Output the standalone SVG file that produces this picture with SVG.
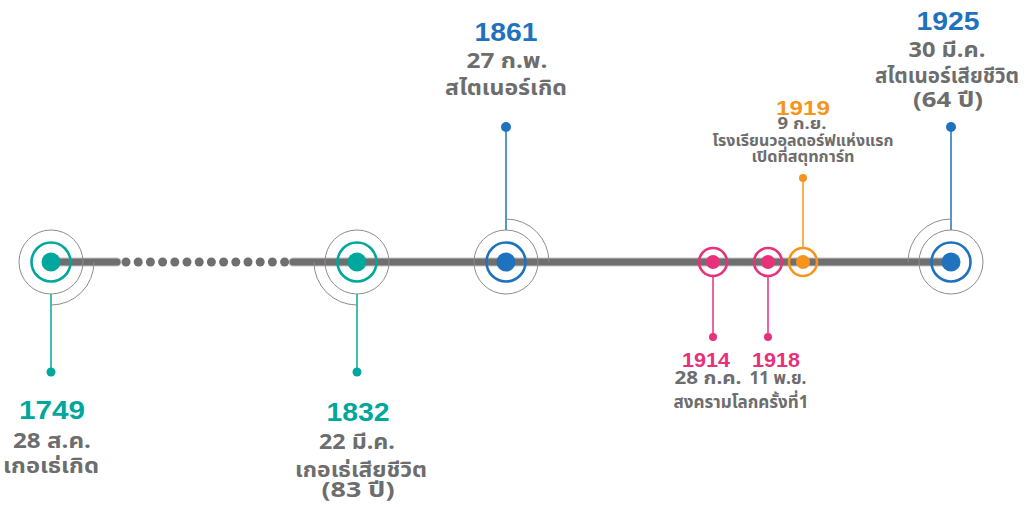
<svg xmlns="http://www.w3.org/2000/svg" width="1031" height="507" viewBox="0 0 1031 507">
<style>
.bg{fill:#ffffff}
.axis{stroke:#6f6f6f;stroke-width:7;stroke-linecap:round;fill:none}
.axisedge{stroke:#c6c6c6;stroke-width:9;stroke-linecap:round;fill:none}
.dotted{fill:#6f6f6f}
.halo{fill:none;stroke:#8c8c8c;stroke-width:1}
.teal{fill:#00a79d}.tealS{stroke:#00a79d}
.blue{fill:#1f72bd}.blueS{stroke:#1f72bd}
.pink{fill:#e8317b}.pinkS{stroke:#e8317b}
.orange{fill:#f7941e}.orangeS{stroke:#f7941e}
.ring{fill:none;stroke-width:2.6}
.conn{stroke-width:1.5;fill:none}
.yr{font-family:"Liberation Sans",Arial,sans-serif;font-weight:bold;text-anchor:middle}
.tx{font-family:"Noto Sans Thai","Noto Sans","Liberation Sans",sans-serif;font-weight:bold;text-anchor:middle;fill:#6d6d6d}
</style>
<rect class="bg" x="0" y="0" width="1031" height="507"/>

<g id="axis">
  <line class="axisedge" x1="51" y1="262" x2="117" y2="262"/>
  <line class="axis" x1="51" y1="262" x2="117" y2="262"/>
  <line class="axisedge" x1="293" y1="262" x2="950" y2="262"/>
  <line class="axis" x1="293" y1="262" x2="950" y2="262"/>
  <g class="dotted">
    <circle cx="126" cy="262" r="4.5"/><circle cx="138.2" cy="262" r="4.5"/><circle cx="150.4" cy="262" r="4.5"/><circle cx="162.6" cy="262" r="4.5"/><circle cx="174.8" cy="262" r="4.5"/><circle cx="187" cy="262" r="4.5"/><circle cx="199.2" cy="262" r="4.5"/><circle cx="211.4" cy="262" r="4.5"/><circle cx="223.6" cy="262" r="4.5"/><circle cx="235.8" cy="262" r="4.5"/><circle cx="248" cy="262" r="4.5"/><circle cx="260.2" cy="262" r="4.5"/><circle cx="272.4" cy="262" r="4.5"/><circle cx="284.6" cy="262" r="4.5"/>
  </g>
</g>

<g id="connectors">
  <line class="conn tealS" x1="51" y1="294" x2="51" y2="372"/>
  <circle class="teal" cx="51" cy="372" r="4.5"/>
  <line class="conn tealS" x1="357" y1="294" x2="357" y2="372"/>
  <circle class="teal" cx="357" cy="372" r="4.5"/>
  <line class="conn blueS" x1="506" y1="127" x2="506" y2="230"/>
  <circle class="blue" cx="506" cy="127" r="5"/>
  <line class="conn blueS" x1="951" y1="127" x2="951" y2="230"/>
  <circle class="blue" cx="951" cy="127" r="5"/>
  <line class="conn orangeS" x1="803" y1="178" x2="803" y2="247"/>
  <circle class="orange" cx="803" cy="178" r="4"/>
  <line class="conn pinkS" x1="713" y1="277" x2="713" y2="337"/>
  <circle class="pink" cx="713" cy="337" r="4"/>
  <line class="conn pinkS" x1="768" y1="277" x2="768" y2="337"/>
  <circle class="pink" cx="768" cy="337" r="4"/>
</g>

<g id="node-1749">
  <circle class="halo" cx="51" cy="262" r="32"/>
  <path class="halo" d="M94 262 A43 43 0 0 1 51 305"/>
  <circle class="ring tealS" cx="51" cy="262" r="19.5"/>
  <circle class="teal" cx="51" cy="262" r="9.5"/>
  <text class="yr teal" x="52" y="419" font-size="25" textLength="66" lengthAdjust="spacingAndGlyphs">1749</text>
  <text class="tx" x="52" y="448" font-size="21" textLength="78" lengthAdjust="spacingAndGlyphs">28 ส.ค.</text>
  <text class="tx" x="51" y="473" font-size="22" textLength="96" lengthAdjust="spacingAndGlyphs">เกอเธ่เกิด</text>
</g>

<g id="node-1832">
  <circle class="halo" cx="357" cy="262" r="32"/>
  <path class="halo" d="M314 262 A43 43 0 0 0 357 305"/>
  <circle class="ring tealS" cx="357" cy="262" r="19.5"/>
  <circle class="teal" cx="357" cy="262" r="9.5"/>
  <text class="yr teal" x="358" y="421" font-size="25" textLength="63" lengthAdjust="spacingAndGlyphs">1832</text>
  <text class="tx" x="357" y="449" font-size="21" textLength="76" lengthAdjust="spacingAndGlyphs">22 มี.ค.</text>
  <text class="tx" x="361" y="477" font-size="22" textLength="132" lengthAdjust="spacingAndGlyphs">เกอเธ่เสียชีวิต</text>
  <text class="tx" x="358" y="497" font-size="21" textLength="73" lengthAdjust="spacingAndGlyphs">(83 ปี)</text>
</g>

<g id="node-1861">
  <circle class="halo" cx="506" cy="262" r="32"/>
  <path class="halo" d="M506 219 A43 43 0 0 1 549 262"/>
  <circle class="ring blueS" cx="506" cy="262" r="19.5"/>
  <circle class="blue" cx="506" cy="262" r="9.5"/>
  <text class="yr blue" x="506" y="41" font-size="25" textLength="63" lengthAdjust="spacingAndGlyphs">1861</text>
  <text class="tx" x="507" y="68" font-size="21" textLength="81" lengthAdjust="spacingAndGlyphs">27 ก.พ.</text>
  <text class="tx" x="506" y="95" font-size="22" textLength="122" lengthAdjust="spacingAndGlyphs">สไตเนอร์เกิด</text>
</g>

<g id="node-1914">
  <circle class="ring pinkS" cx="713" cy="262" r="14"/>
  <circle class="pink" cx="713" cy="262" r="7"/>
  <text class="yr pink" x="706" y="367" font-size="20" textLength="48" lengthAdjust="spacingAndGlyphs">1914</text>
  <text class="tx" x="708" y="384" font-size="17" textLength="67" lengthAdjust="spacingAndGlyphs">28 ก.ค.</text>
</g>

<g id="node-1918">
  <circle class="ring pinkS" cx="768" cy="262" r="14"/>
  <circle class="pink" cx="768" cy="262" r="7"/>
  <text class="yr pink" x="776" y="367" font-size="20" textLength="48" lengthAdjust="spacingAndGlyphs">1918</text>
  <text class="tx" x="778" y="384" font-size="17" textLength="57" lengthAdjust="spacingAndGlyphs">11 พ.ย.</text>
</g>

<g id="label-ww1">
  <text class="tx" x="741" y="408" font-size="17" textLength="135" lengthAdjust="spacingAndGlyphs">สงครามโลกครั้งที่1</text>
</g>

<g id="node-1919">
  <circle class="ring orangeS" cx="803" cy="262" r="14"/>
  <circle class="orange" cx="803" cy="262" r="7"/>
  <text class="yr orange" x="803" y="115" font-size="20" textLength="54" lengthAdjust="spacingAndGlyphs">1919</text>
  <text class="tx" x="802" y="129" font-size="16" textLength="49" lengthAdjust="spacingAndGlyphs">9 ก.ย.</text>
  <text class="tx" x="803" y="146" font-size="15" textLength="181" lengthAdjust="spacingAndGlyphs">โรงเรียนวอลดอร์ฟแห่งแรก</text>
  <text class="tx" x="803" y="162" font-size="15" textLength="103" lengthAdjust="spacingAndGlyphs">เปิดที่สตุทการ์ท</text>
</g>

<g id="node-1925">
  <circle class="halo" cx="951" cy="262" r="32"/>
  <path class="halo" d="M951 219 A43 43 0 0 0 908 262"/>
  <circle class="ring blueS" cx="951" cy="262" r="19.5"/>
  <circle class="blue" cx="951" cy="262" r="9.5"/>
  <text class="yr blue" x="948" y="30" font-size="25" textLength="63" lengthAdjust="spacingAndGlyphs">1925</text>
  <text class="tx" x="947" y="57" font-size="21" textLength="77" lengthAdjust="spacingAndGlyphs">30 มี.ค.</text>
  <text class="tx" x="947" y="83" font-size="22" textLength="144" lengthAdjust="spacingAndGlyphs">สไตเนอร์เสียชีวิต</text>
  <text class="tx" x="948" y="107" font-size="21" textLength="70" lengthAdjust="spacingAndGlyphs">(64 ปี)</text>
</g>
</svg>
